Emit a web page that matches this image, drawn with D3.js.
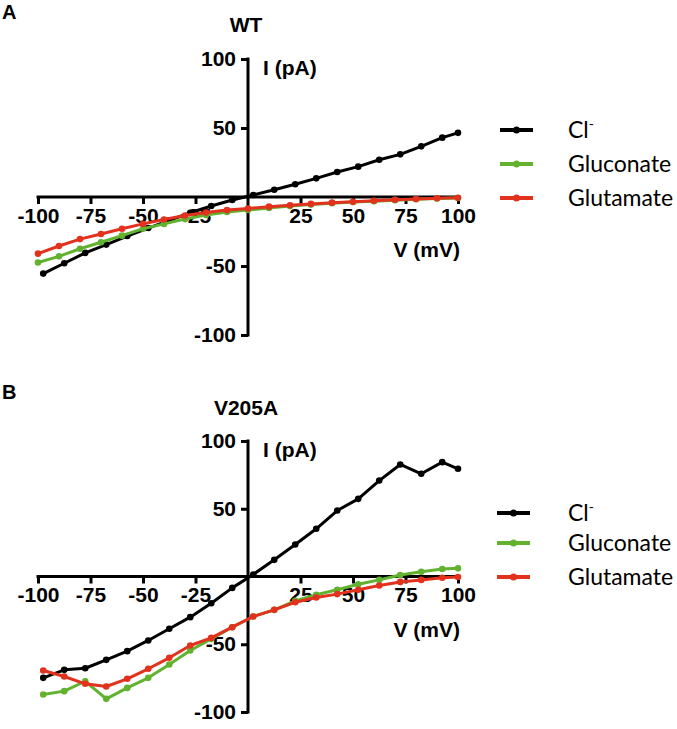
<!DOCTYPE html>
<html><head><meta charset="utf-8">
<script src="https://cdn.jsdelivr.net/npm/d3@7"></script>
<style>body{margin:0;background:#fff}svg{display:block}</style>
</head><body>
<script>
// ---------- data ----------
const xTicks = [-100, -75, -50, -25, 25, 50, 75, 100];
const yTicks = [100, 50, -50, -100];
const seriesNames = ["Cl", "Gluconate", "Glutamate"];
const seriesColors = ["#000000", "#62b22f", "#e2311d"];

// Panel A (WT)
const vA_Cl = [-97.5,-87.5,-77.5,-67.5,-57.5,-47.5,-37.5,-27.5,-17.5,-7.5,2.5,12.5,22.5,32.5,42.5,52.5,62.5,72.5,82.5,92.5,100];
const iA_Cl = [-55.5,-48,-40.5,-34.5,-28.3,-22.5,-16.9,-11.4,-6.5,-2.2,1.5,5.2,9.2,13.5,18.1,22,27,30.9,36.7,43,46.5];
const vA_anion = [-100,-90,-80,-70,-60,-50,-40,-30,-20,-10,0,10,20,30,40,50,60,70,80,90,100];
const iA_Gluconate = [-47.5,-43,-37.5,-32.8,-28,-23,-19.5,-16,-13,-10.8,-9.4,-7.9,-6.6,-5.5,-4.5,-3.7,-3,-2.3,-1.6,-1.1,-0.7];
const iA_Glutamate = [-41,-35.5,-30.5,-26.8,-23,-19.5,-16.3,-13.4,-11.3,-9.5,-8.3,-7,-6,-5,-4.1,-3.4,-2.7,-2,-1.4,-0.9,-0.5];

// Panel B (V205A)
const vB = [-97.5,-87.5,-77.5,-67.5,-57.5,-47.5,-37.5,-27.5,-17.5,-7.5,2.5,12.5,22.5,32.5,42.5,52.5,62.5,72.5,82.5,92.5,100];
const iB_Cl = [-74.8,-68.9,-67.7,-61.5,-55.1,-47.2,-38.6,-30,-19.7,-8.4,1.5,12.3,23.6,35.2,48.7,57.3,70.8,82.7,75.8,84.4,79.5];
const iB_Gluconate = [-87.1,-84.6,-77.3,-90.3,-82.2,-74.8,-64.9,-54.6,-46,-37.4,-29.5,-24.6,-18,-13.5,-9.8,-5.7,-2.5,1.1,3.5,5.5,6];
const iB_Glutamate = [-69.4,-73.8,-79.2,-81.2,-75.5,-68.1,-60,-50.9,-45.3,-37.4,-29.5,-24.6,-19,-15.5,-13,-9.8,-6.6,-4,-2.5,-0.9,-0.4];

const panels = [
  {letter:"A", title:"WT", yTop:59, yBot:335, letterY:19, titleY:32, legX:500, legY:[130,164,198],
   series:[[vA_Cl,iA_Cl],[vA_anion,iA_Gluconate],[vA_anion,iA_Glutamate]]},
  {letter:"B", title:"V205A", yTop:441, yBot:712, letterY:399, titleY:415, legX:497, legY:[513,543,577],
   series:[[vB,iB_Cl],[vB,iB_Gluconate],[vB,iB_Glutamate]]}
];

// ---------- drawing ----------
const W = 677, H = 729;
const svg = d3.select("body").append("svg").attr("width", W).attr("height", H);
const tickFont = "'Liberation Sans', Arial, sans-serif";
const legFont = "Lato, 'Open Sans', sans-serif";

const x = d3.scaleLinear().domain([-100, 100]).range([38, 458]);

panels.forEach(p => {
  const y = d3.scaleLinear().domain([-100, 100]).range([p.yBot, p.yTop]);
  const g = svg.append("g");

  g.append("text").attr("x", 2).attr("y", p.letterY).text(p.letter)
    .attr("font-family", tickFont).attr("font-weight", "bold").attr("font-size", 20);
  g.append("text").attr("x", x(0) - 2).attr("y", p.titleY).attr("text-anchor", "middle").text(p.title)
    .attr("font-family", tickFont).attr("font-weight", "bold").attr("font-size", 21);

  const fmt = d => String(d);
  const xa = g.append("g").attr("transform", `translate(0,${y(0)})`)
    .call(d3.axisBottom(x).tickValues(xTicks).tickSize(7).tickSizeOuter(0).tickPadding(4).tickFormat(fmt));
  const ya = g.append("g").attr("transform", `translate(${x(0)},0)`)
    .call(d3.axisLeft(y).tickValues(yTicks).tickSize(7).tickSizeOuter(0).tickPadding(5).tickFormat(fmt));
  [xa, ya].forEach(a => {
    a.select(".domain").attr("stroke", "#000").attr("stroke-width", 3);
    a.selectAll(".tick line").attr("stroke", "#000").attr("stroke-width", 3);
    a.selectAll(".tick text").attr("fill", "#000").attr("font-family", tickFont)
      .attr("font-weight", "bold").attr("font-size", 21);
  });
  xa.select(".domain").attr("d", `M${x(-100)-1.5},0H${x(100)+1.5}`);
  ya.select(".domain").attr("d", `M0,${y(-100)+1.5}V${y(100)-1.5}`);

  g.append("text").attr("x", x(0) + 15).attr("y", y(100) + 16).text("I (pA)")
    .attr("font-family", tickFont).attr("font-weight", "bold").attr("font-size", 21);
  g.append("text").attr("x", x(100) + 2).attr("y", y(0) + 60).attr("text-anchor", "end").text("V (mV)")
    .attr("font-family", tickFont).attr("font-weight", "bold").attr("font-size", 21);

  const line = d3.line().x(d => x(d[0])).y(d => y(d[1]));
  p.series.forEach((s, k) => {
    const pts = s[0].map((v, i) => [v, s[1][i]]);
    g.append("path").datum(pts).attr("d", line).attr("fill", "none")
      .attr("stroke", seriesColors[k]).attr("stroke-width", 3).attr("stroke-linejoin", "round");
    g.selectAll(null).data(pts).enter().append("circle")
      .attr("cx", d => x(d[0])).attr("cy", d => y(d[1])).attr("r", 3.3).attr("fill", seriesColors[k]);
  });

  seriesNames.forEach((n, k) => {
    const ly = p.legY[k];
    g.append("line").attr("x1", p.legX).attr("x2", p.legX + 33).attr("y1", ly).attr("y2", ly)
      .attr("stroke", seriesColors[k]).attr("stroke-width", 4);
    g.append("circle").attr("cx", p.legX + 16.5).attr("cy", ly).attr("r", 3.5).attr("fill", seriesColors[k]);
    const t = g.append("text").attr("x", 568).attr("y", ly + 8)
      .attr("font-family", legFont).attr("font-size", 23).attr("fill", "#000");
    t.append("tspan").text(n);
    if (n === "Cl") t.append("tspan").attr("dy", -9).attr("font-size", 14).text("-");
  });
});
</script>
</body></html>
